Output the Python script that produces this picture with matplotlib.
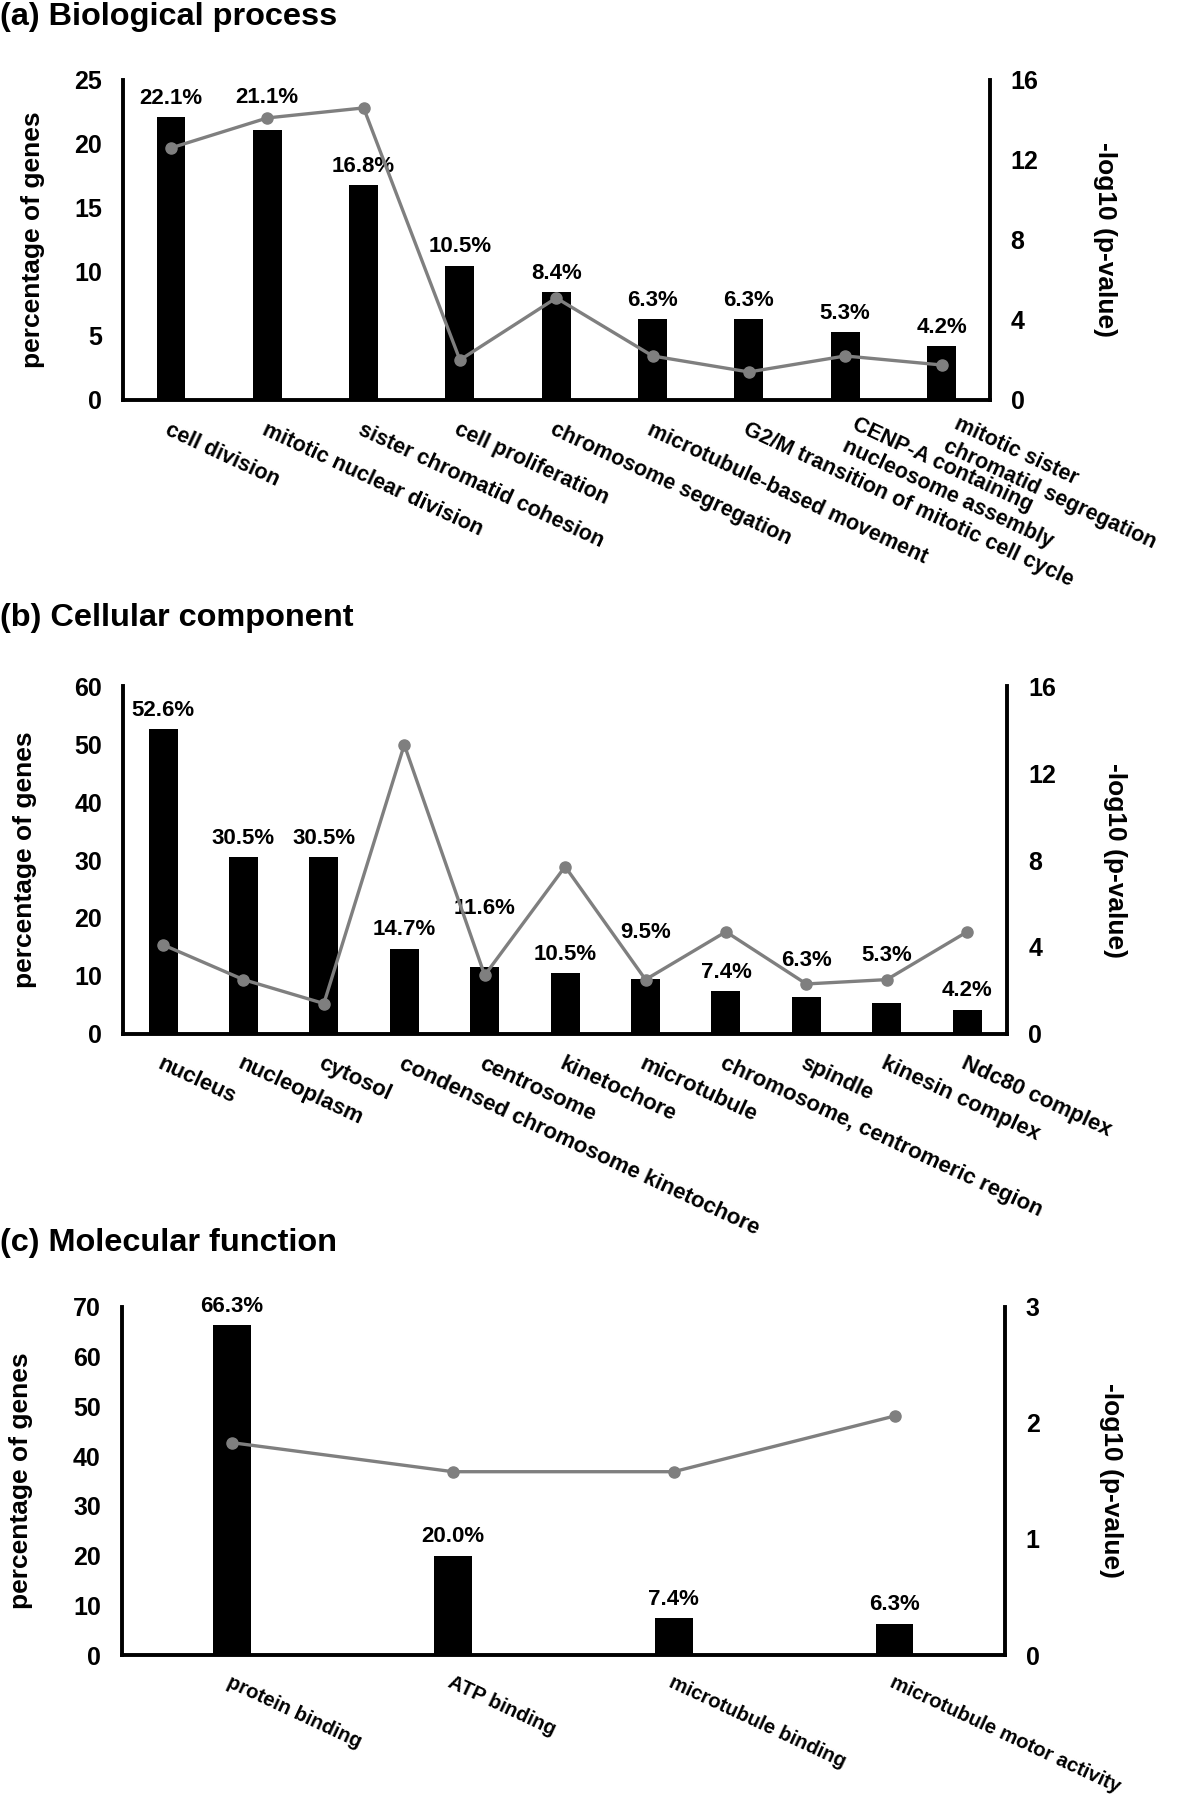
import numpy as np
import matplotlib
matplotlib.use("Agg")
import matplotlib.pyplot as plt
from matplotlib.transforms import offset_copy

plt.rcParams['font.family'] = ['Liberation Sans', 'DejaVu Sans']
plt.rcParams['font.weight'] = 'bold'

#--------------------- DATA -------------------#
bp_terms = ["cell division", "mitotic nuclear division", "sister chromatid cohesion",
            "cell proliferation", "chromosome segregation", "microtubule-based movement",
            "G2/M transition of mitotic cell cycle", "CENP-A containing\nnucleosome assembly",
            "mitotic sister\nchromatid segregation"]
bp_pct = [22.1, 21.1, 16.8, 10.5, 8.4, 6.3, 6.3, 5.3, 4.2]
bp_logp = [12.6, 14.1, 14.6, 2.0, 5.1, 2.2, 1.4, 2.2, 1.75]

cc_terms = ["nucleus", "nucleoplasm", "cytosol", "condensed chromosome kinetochore",
            "centrosome", "kinetochore", "microtubule", "chromosome, centromeric region",
            "spindle", "kinesin complex", "Ndc80 complex"]
cc_pct = [52.6, 30.5, 30.5, 14.7, 11.6, 10.5, 9.5, 7.4, 6.3, 5.3, 4.2]
cc_logp = [4.1, 2.5, 1.4, 13.3, 2.7, 7.7, 2.5, 4.7, 2.3, 2.5, 4.7]

mf_terms = ["protein binding", "ATP binding", "microtubule binding", "microtubule motor activity"]
mf_pct = [66.3, 20.0, 7.4, 6.3]
mf_logp = [1.83, 1.58, 1.58, 2.06]

#--------------------- STYLE -------------------#
# extra lift (points) for some % labels, moved clear of the line like in the original
bp_lift = {1: 10}
cc_lift = {4: 28, 6: 20, 8: 13, 9: 21}
mf_lift = {}
# nudges (points) for the two-line category labels
bp_nudge = {7: (9, 4), 8: (13, 4)}

#--------------------- FIGURE -------------------#
fig = plt.figure(figsize=(11.81, 17.96), dpi=100)

panels = [
    # title, terms, pct, logp, rect, ymax, yticks, y2max, y2ticks, bar w, title y, ylabel x, y2label x,
    # lifts, nudges, xlabel size, xlabel pad
    ("(a) Biological process", bp_terms, bp_pct, bp_logp, [0.104, 0.7773, 0.734, 0.1782],
     25, np.arange(0, 26, 5), 16, np.arange(0, 17, 4), 0.30, 0.9905, -0.09, 1.133,
     bp_lift, bp_nudge, 15.5, 14),
    ("(b) Cellular component", cc_terms, cc_pct, cc_logp, [0.104, 0.4243, 0.749, 0.1937],
     60, np.arange(0, 61, 10), 16, np.arange(0, 17, 4), 0.36, 0.6557, -0.097, 1.122,
     cc_lift, {}, 16, 14),
    ("(c) Molecular function", mf_terms, mf_pct, mf_logp, [0.103, 0.0785, 0.748, 0.1938],
     70, np.arange(0, 71, 10), 3, np.arange(0, 4, 1), 0.17, 0.3077, -0.10, 1.12,
     mf_lift, {}, 14.5, 13),
]

for (title, terms, pct, logp, rect, ymax, yticks, y2max, y2ticks, bw, ty, ylx, y2lx,
     lifts, nudges, xfs, xpad) in panels:
    ax = fig.add_axes(rect)
    x = np.arange(len(terms))
    ax.bar(x, pct, width=bw, color='black', zorder=2)
    for i, v in enumerate(pct):
        ax.annotate(f"{v:.1f}%", (x[i], v), xytext=(0, 6 + lifts.get(i, 0)),
                    textcoords='offset points', ha='center', va='bottom',
                    fontsize=16, fontweight='bold')
    ax.set_xlim(-0.5, len(terms) - 0.5)
    ax.set_ylim(0, ymax)
    ax.set_yticks(yticks)
    ax.tick_params(axis='y', length=0, pad=15, labelsize=18)
    ax.set_xticks(x)
    ax.set_xticklabels(terms, rotation=-25, ha='left', va='top', rotation_mode='anchor',
                       fontsize=xfs, multialignment='left')
    ax.tick_params(axis='x', length=0, pad=xpad)
    for i, lab in enumerate(ax.get_xticklabels()):
        if i in nudges:
            dx, dy = nudges[i]
            lab.set_transform(offset_copy(lab.get_transform(), fig=fig, x=dx, y=dy,
                                          units='points'))
    ax.set_ylabel("percentage of genes", fontsize=19, fontweight='bold')
    ax.yaxis.set_label_coords(ylx, 0.5)
    for s in ['top', 'right']:
        ax.spines[s].set_visible(False)
    for s in ['left', 'bottom']:
        ax.spines[s].set_linewidth(2.8)

    ax2 = ax.twinx()
    ax2.plot(x, logp, color='#7f7f7f', lw=2.4, marker='o', markersize=8, zorder=3)
    ax2.set_ylim(0, y2max)
    ax2.set_yticks(y2ticks)
    ax2.tick_params(axis='y', length=0, pad=15, labelsize=18)
    ax2.set_ylabel("-log10 (p-value)", fontsize=19, fontweight='bold', rotation=270,
                   va='center')
    ax2.yaxis.set_label_coords(y2lx, 0.5)
    for s in ['top', 'left', 'bottom']:
        ax2.spines[s].set_visible(False)
    ax2.spines['right'].set_linewidth(2.8)

    fig.text(0.0, ty, title, fontsize=23.4, fontweight='bold', ha='left', va='center')

fig.savefig("out.png", dpi=100)
